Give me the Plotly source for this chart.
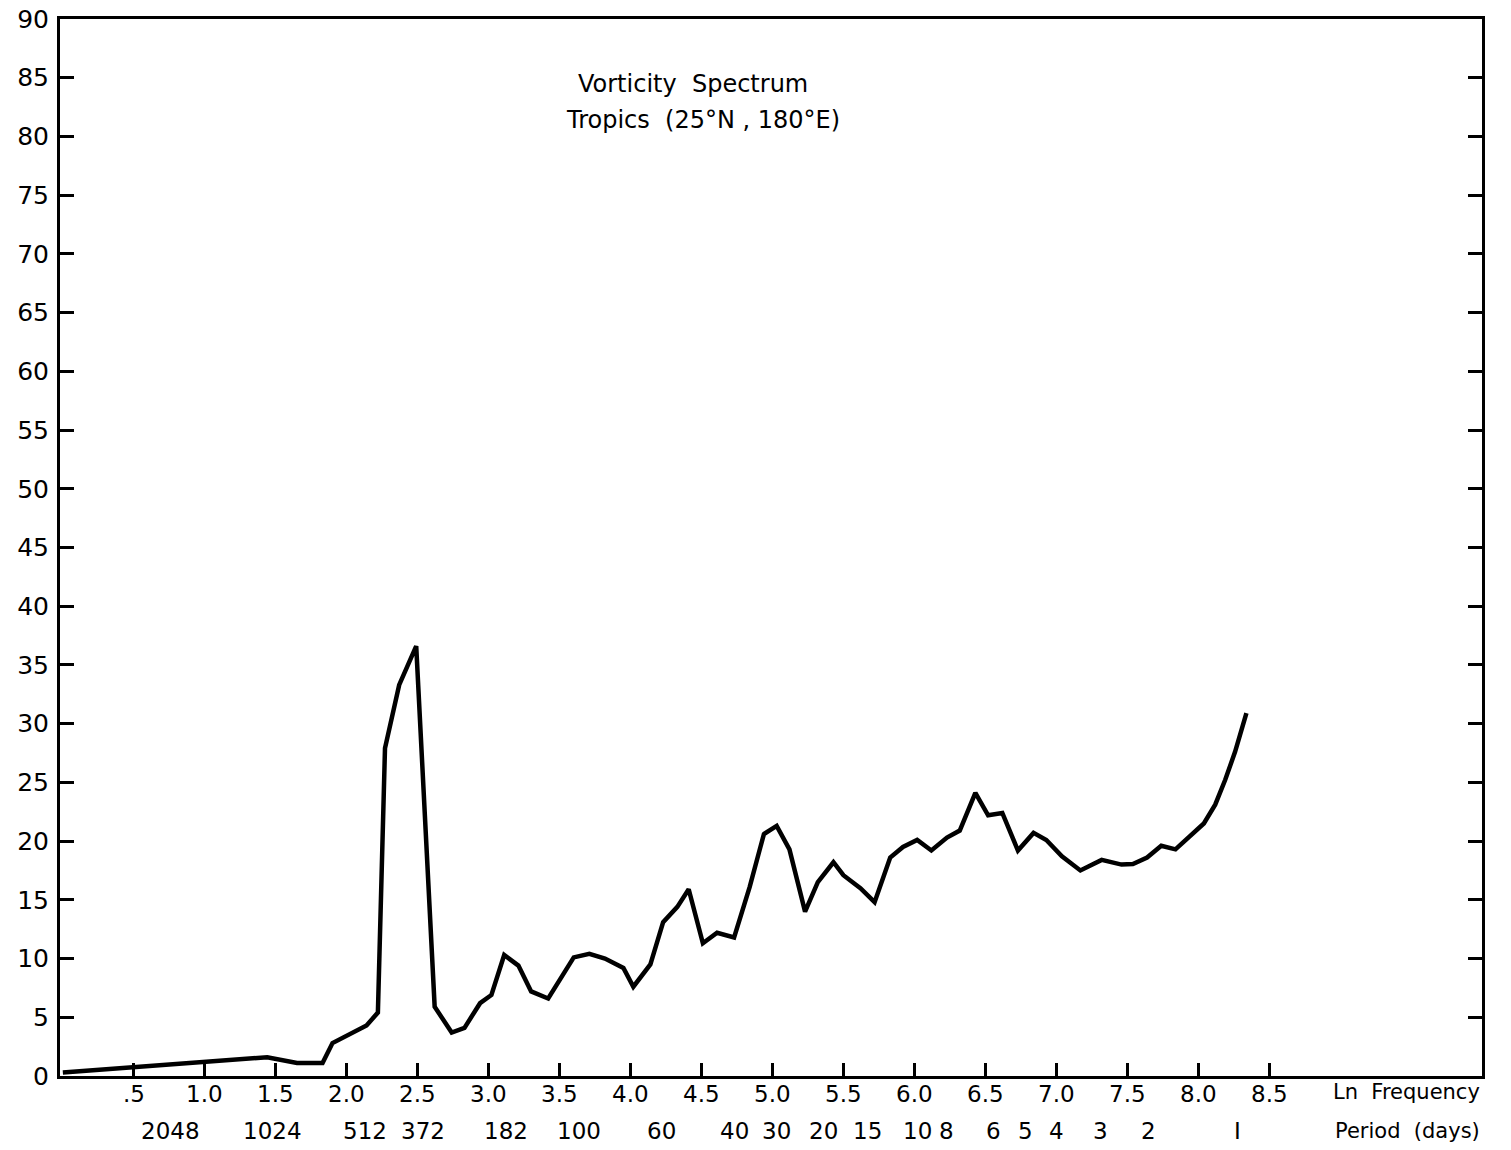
import plotly.graph_objects as go

# Spectrum curve: ln(frequency) vs. spectral estimate
ln_freq = [0.00, 0.52, 1.01, 1.44, 1.65, 1.83, 1.90, 2.14, 2.22, 2.27, 2.37, 2.49,
           2.62, 2.74, 2.83, 2.94, 3.02, 3.11, 3.21, 3.30, 3.42, 3.50, 3.60, 3.71,
           3.82, 3.95, 4.02, 4.14, 4.23, 4.33, 4.41, 4.51, 4.61, 4.73, 4.84, 4.94,
           5.03, 5.12, 5.23, 5.32, 5.43, 5.50, 5.62, 5.72, 5.83, 5.92, 6.02, 6.12,
           6.23, 6.32, 6.43, 6.52, 6.62, 6.73, 6.84, 6.93, 7.04, 7.17, 7.32, 7.46,
           7.54, 7.64, 7.74, 7.84, 7.94, 8.04, 8.12, 8.19, 8.26, 8.34]
spectrum = [0.3, 0.8, 1.2, 1.6, 1.1, 1.1, 2.8, 4.3, 5.4, 27.9, 33.3, 36.6,
            5.9, 3.7, 4.1, 6.2, 6.9, 10.3, 9.4, 7.2, 6.6, 8.2, 10.1, 10.4,
            10.0, 9.2, 7.6, 9.5, 13.1, 14.4, 15.9, 11.3, 12.2, 11.8, 16.1, 20.6,
            21.3, 19.3, 14.0, 16.5, 18.2, 17.1, 16.0, 14.8, 18.6, 19.5, 20.1, 19.2,
            20.3, 20.9, 24.1, 22.2, 22.4, 19.2, 20.7, 20.1, 18.7, 17.5, 18.4, 18.0,
            18.05, 18.6, 19.6, 19.3, 20.4, 21.5, 23.1, 25.2, 27.6, 30.9]

# Axis ticks
x_tickvals = [0.5, 1.0, 1.5, 2.0, 2.5, 3.0, 3.5, 4.0, 4.5, 5.0, 5.5, 6.0, 6.5, 7.0, 7.5, 8.0, 8.5]
x_ticktext = [".5", "1.0", "1.5", "2.0", "2.5", "3.0", "3.5", "4.0", "4.5", "5.0",
              "5.5", "6.0", "6.5", "7.0", "7.5", "8.0", "8.5"]
y_tickvals = list(range(0, 91, 5))

# Period (days) labels and where they sit on the ln-frequency axis
period_labels = ["2048", "1024", "512", "372", "182", "100", "60", "40", "30", "20",
                 "15", "10", "8", "6", "5", "4", "3", "2", "I"]
period_pos = [0.76, 1.48, 2.13, 2.54, 3.12, 3.64, 4.22, 4.73, 5.03, 5.36,
              5.67, 6.02, 6.23, 6.56, 6.78, 7.00, 7.31, 7.65, 8.28]

FONT = "DejaVu Sans"

fig = go.Figure()
fig.add_trace(go.Scatter(
    x=ln_freq, y=spectrum, mode="lines",
    line=dict(color="black", width=4.5),
    hoverinfo="skip", showlegend=False,
))

fig.update_layout(
    width=1511, height=1150,
    margin=dict(l=60, r=29, t=19, b=74),
    paper_bgcolor="white", plot_bgcolor="white",
    font=dict(family=FONT, color="black", size=23),
    xaxis=dict(
        range=[-0.02, 10.0], tickvals=x_tickvals, showticklabels=False,
        ticks="inside", ticklen=13, tickwidth=2.5, tickcolor="black",
        showline=True, linecolor="black", linewidth=3, mirror=True,
        showgrid=False, zeroline=False, automargin=False,
    ),
    yaxis=dict(
        range=[0, 90], tickvals=y_tickvals,
        ticks="inside", ticklen=14, tickwidth=3, tickcolor="black",
        showline=True, linecolor="black", linewidth=3, mirror="ticks",
        showgrid=False, zeroline=False, ticklabelstandoff=3, automargin=False,
        tickfont=dict(family=FONT, size=25),
    ),
)

annotations = [
    dict(text="Vorticity  Spectrum", x=(693 - 60) / 1422, y=(1076 - 84) / 1057,
         xref="paper", yref="paper", xanchor="center", yanchor="middle",
         showarrow=False, font=dict(size=24)),
    dict(text="Tropics  (25°N , 180°E)", x=(703 - 60) / 1422, y=(1076 - 120) / 1057,
         xref="paper", yref="paper", xanchor="center", yanchor="middle",
         showarrow=False, font=dict(size=24)),
    dict(text="Ln  Frequency", x=1.0, y=0, xref="paper", yref="paper",
         xanchor="right", yanchor="middle", yshift=-16, showarrow=False,
         font=dict(size=21)),
    dict(text="Period  (days)", x=1.0, y=0, xref="paper", yref="paper",
         xanchor="right", yanchor="middle", yshift=-55, showarrow=False,
         font=dict(size=21)),
]
# Ln-frequency tick labels, first row under the axis
for lab, pos in zip(x_ticktext, x_tickvals):
    annotations.append(dict(text=lab, x=pos, y=0, xref="x", yref="paper",
                            yanchor="middle", yshift=-18, showarrow=False,
                            font=dict(size=23)))
# Period labels, second row
for lab, pos in zip(period_labels, period_pos):
    annotations.append(dict(text=lab, x=pos, y=0, xref="x", yref="paper",
                            yanchor="middle", yshift=-55, showarrow=False,
                            font=dict(size=23)))
fig.update_layout(annotations=annotations)

fig.write_html("out.html")
